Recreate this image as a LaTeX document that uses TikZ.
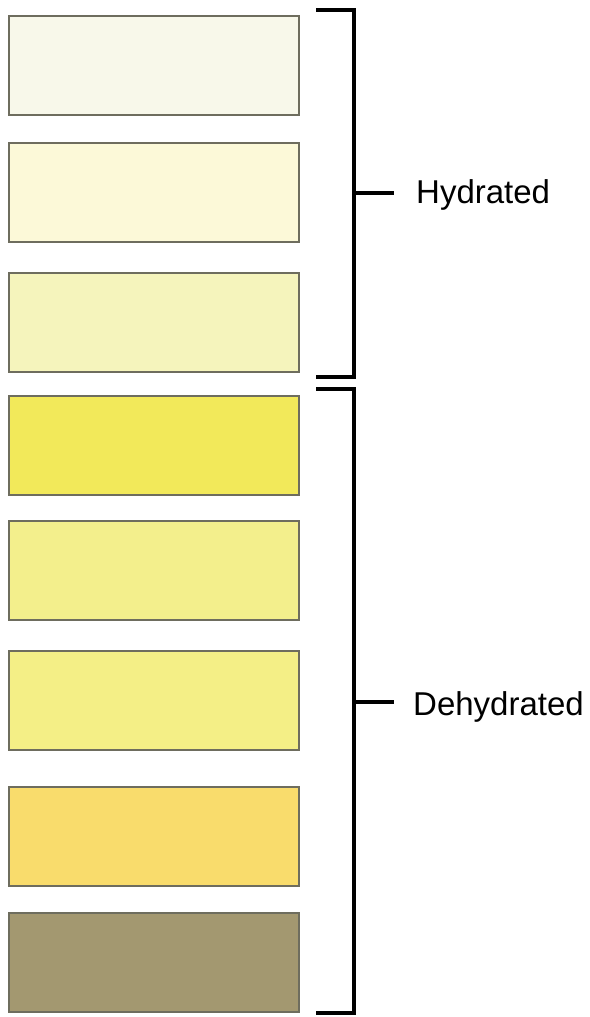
\documentclass[tikz,border=0pt]{standalone}
\usepackage{fontspec}
\setmainfont{Liberation Sans}
\begin{document}
\begin{tikzpicture}[x=1pt,y=-1pt,
  swatch/.style={draw=swborder,line width=1.5pt,minimum width=290pt,minimum height=99pt,anchor=north west,inner sep=0pt},
  bracket/.style={line width=3.2pt,line join=miter},
  lbl/.style={font=\fontsize{33}{36}\selectfont,anchor=base west,inner sep=0pt}]
\definecolor{swborder}{HTML}{6E6D5E}
\definecolor{c1}{HTML}{F8F8EA}
\definecolor{c2}{HTML}{FCF9D8}
\definecolor{c3}{HTML}{F5F4BC}
\definecolor{c4}{HTML}{F2E95A}
\definecolor{c5}{HTML}{F3EF8C}
\definecolor{c6}{HTML}{F4EF86}
\definecolor{c7}{HTML}{F9DC6C}
\definecolor{c8}{HTML}{A39870}
\useasboundingbox[fill=white] (0,0) rectangle (589,1017);
\node[swatch,fill=c1] (b1) at (8,15) {};
\node[swatch,fill=c2] (b2) at (8,142) {};
\node[swatch,fill=c3] (b3) at (8,272) {};
\node[swatch,fill=c4] (b4) at (8,395) {};
\node[swatch,fill=c5] (b5) at (8,520) {};
\node[swatch,fill=c6] (b6) at (8,650) {};
\node[swatch,fill=c7] (b7) at (8,786) {};
\node[swatch,fill=c8] (b8) at (8,912) {};
\node[lbl] (hyd) at (416,203) {Hydrated};
\node[lbl] (dehyd) at (413,715) {Dehydrated};
\coordinate (h1) at (316,10);
\coordinate (h2) at (316,377);
\coordinate (hm) at (354,193);
\coordinate (d1) at (316,389);
\coordinate (d2) at (316,1013);
\coordinate (dm) at (354,702);
\draw[bracket] (h1) -- (354,10) -- (354,377) -- (h2);
\draw[bracket] (hm) -- (394,193);
\draw[bracket] (d1) -- (354,389) -- (354,1013) -- (d2);
\draw[bracket] (dm) -- (394,702);
\end{tikzpicture}
\end{document}
